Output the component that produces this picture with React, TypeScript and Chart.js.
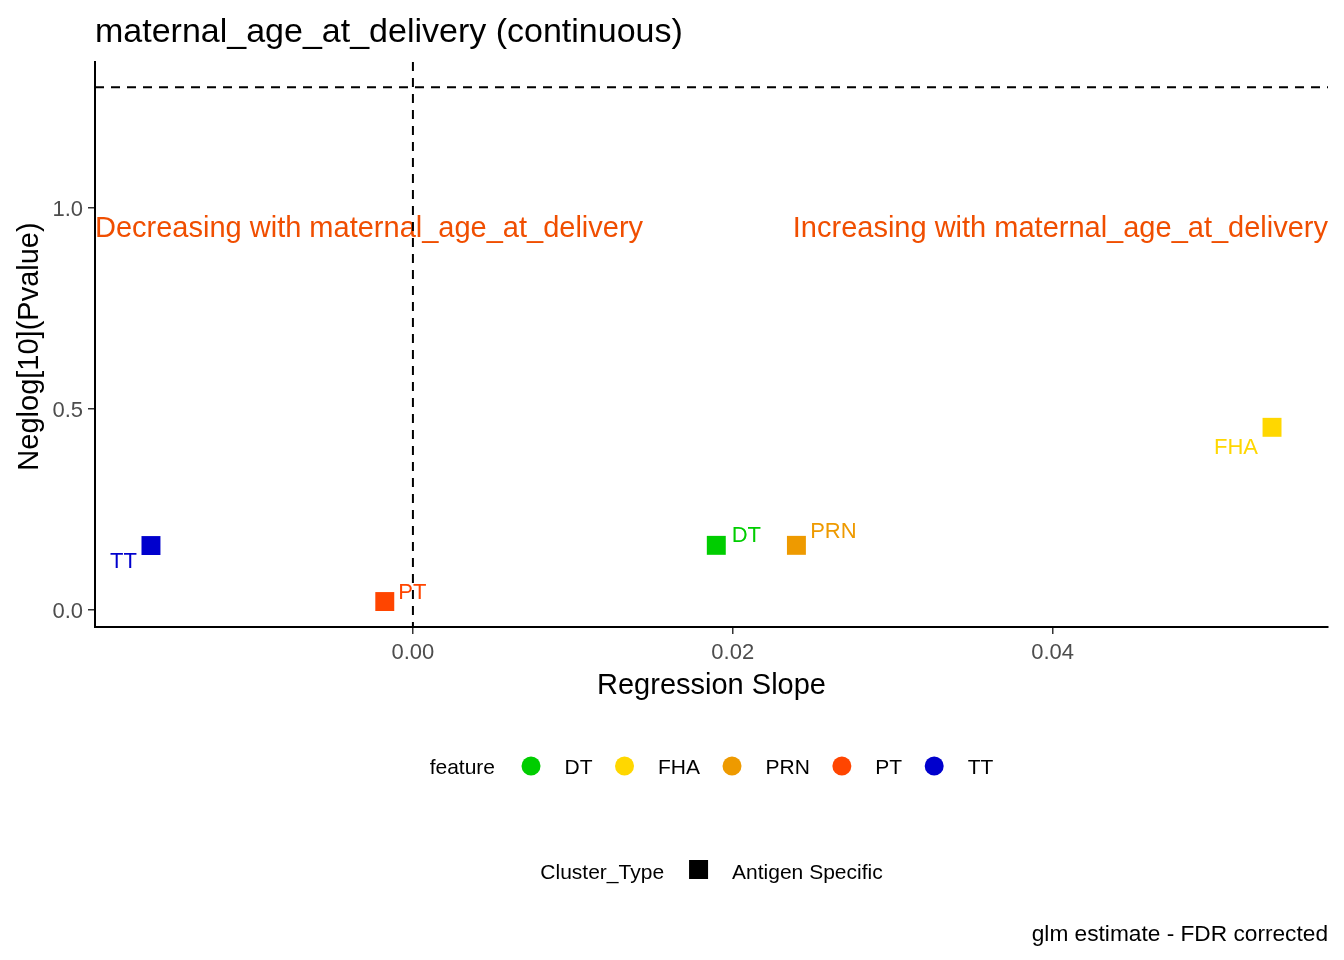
import React, { useEffect, useRef } from 'react';
import { Chart, registerables } from 'chart.js';

Chart.register(...registerables);

// glm results per antigen
const features = ['DT', 'FHA', 'PRN', 'PT', 'TT'];
const slopes = [0.01897, 0.05372, 0.02398, -0.00176, -0.01638];
const negLogP = [0.16, 0.454, 0.16, 0.02, 0.1595];
const featureColors = ['#00CD00', '#FFD700', '#EE9A00', '#FF4500', '#0000CD'];

const xTicks = [0, 0.02, 0.04];
const yTicks = [0, 0.5, 1.0];
const pCutoff = 0.05;

const titleText = 'maternal_age_at_delivery (continuous)';
const xTitle = 'Regression Slope';
const yTitle = 'Neglog[10](Pvalue)';
const decreasingText = 'Decreasing with maternal_age_at_delivery';
const increasingText = 'Increasing with maternal_age_at_delivery';
const captionText = 'glm estimate - FDR corrected';
const clusterTitle = 'Cluster_Type';
const clusterLabel = 'Antigen Specific';

// repelled label offsets (px) from each point
const labelOffsets = [
  [30, -9],
  [-36, 21],
  [37, -13],
  [27.5, -9],
  [-27.5, 16.5],
];

const FONT = '"Liberation Sans", Arial, sans-serif';
const annotationColor = '#F04E00';

const overlay = {
  id: 'overlay',
  afterDatasetsDraw(chart: any) {
    const { ctx, chartArea, scales } = chart;
    const x = scales.x;
    const y = scales.y;
    ctx.save();

    ctx.font = `22px ${FONT}`;
    ctx.textAlign = 'center';
    ctx.textBaseline = 'middle';
    features.forEach((f, i) => {
      ctx.fillStyle = featureColors[i];
      ctx.fillText(
        f,
        x.getPixelForValue(slopes[i]) + labelOffsets[i][0],
        y.getPixelForValue(negLogP[i]) + labelOffsets[i][1]
      );
    });

    ctx.font = `29px ${FONT}`;
    ctx.fillStyle = annotationColor;
    const ay = y.getPixelForValue(1) + 21;
    ctx.textAlign = 'left';
    ctx.fillText(decreasingText, chartArea.left, ay);
    ctx.textAlign = 'right';
    ctx.fillText(increasingText, chartArea.right, ay);

    // reference lines
    ctx.strokeStyle = '#000';
    ctx.lineWidth = 2;
    ctx.setLineDash([9, 7]);
    const hy = y.getPixelForValue(-Math.log10(pCutoff));
    ctx.beginPath();
    ctx.moveTo(chartArea.left, hy);
    ctx.lineTo(chartArea.right, hy);
    ctx.stroke();
    const vx = x.getPixelForValue(0);
    ctx.beginPath();
    ctx.moveTo(vx, chartArea.top);
    ctx.lineTo(vx, chartArea.bottom);
    ctx.stroke();
    ctx.restore();
  },
  afterDraw(chart: any) {
    const { ctx, chartArea } = chart;
    const midX = (chartArea.left + chartArea.right) / 2;
    ctx.save();
    ctx.fillStyle = '#000';
    ctx.textBaseline = 'middle';

    ctx.font = `34px ${FONT}`;
    ctx.textAlign = 'left';
    ctx.fillText(titleText, chartArea.left, 33);

    ctx.font = `29px ${FONT}`;
    ctx.textAlign = 'center';
    ctx.fillText(xTitle, midX, 686);
    ctx.save();
    ctx.translate(30, (chartArea.top + chartArea.bottom) / 2 + 2);
    ctx.rotate(-Math.PI / 2);
    ctx.fillText(yTitle, 0, 0);
    ctx.restore();

    // feature legend
    ctx.font = `21px ${FONT}`;
    ctx.textAlign = 'left';
    const titleW = ctx.measureText('feature').width;
    const itemWs = features.map(f => ctx.measureText(f).width);
    let total = titleW + 36 - 32;
    itemWs.forEach(w => (total += 32 + 33.5 + w));
    let cx = midX - total / 2;
    const ly = 768;
    ctx.fillText('feature', cx, ly);
    cx += titleW + 4;
    features.forEach((f, i) => {
      const c = cx + 32;
      ctx.fillStyle = featureColors[i];
      ctx.beginPath();
      ctx.arc(c, ly - 2, 9.5, 0, Math.PI * 2);
      ctx.fill();
      ctx.fillStyle = '#000';
      ctx.fillText(f, c + 33.5, ly);
      cx = c + 33.5 + itemWs[i];
    });

    // cluster legend
    const ctW = ctx.measureText(clusterTitle).width;
    const clW = ctx.measureText(clusterLabel).width;
    const total2 = ctW + 34.5 + 33.5 + clW;
    const sx = midX - total2 / 2;
    const ly2 = 873;
    ctx.fillText(clusterTitle, sx, ly2);
    const sq = sx + ctW + 34.5;
    ctx.fillRect(sq - 9.5, ly2 - 13, 19, 19);
    ctx.fillText(clusterLabel, sq + 33.5, ly2);

    ctx.font = `22.7px ${FONT}`;
    ctx.textAlign = 'right';
    ctx.fillText(captionText, chartArea.right, 935);
    ctx.restore();
  },
};

const App = () => {
  const canvasRef = useRef<HTMLCanvasElement | null>(null);

  useEffect(() => {
    document.body.style.margin = '0';
    const ctx = canvasRef.current?.getContext('2d') as any;
    const tickFont = { family: FONT, size: 22 };
    const chart = new Chart(ctx, {
      type: 'scatter',
      data: {
        datasets: [
          {
            data: slopes.map((s, i) => ({ x: s, y: negLogP[i] })),
            pointStyle: 'rect',
            pointRadius: 13.4,
            pointBackgroundColor: featureColors,
            pointBorderWidth: 0,
            showLine: false,
          },
        ],
      },
      options: {
        animation: false,
        responsive: false,
        events: [],
        layout: { padding: { left: 0, top: 62, right: 16, bottom: 293 } },
        scales: {
          x: {
            type: 'linear',
            min: -0.01988,
            max: 0.05722,
            afterBuildTicks: (s: any) => {
              s.ticks = xTicks.map(v => ({ value: v }));
            },
            afterFit: (s: any) => {
              s.height = 40;
            },
            ticks: {
              color: '#4D4D4D',
              font: tickFont,
              padding: 6,
              maxRotation: 0,
              autoSkip: false,
              callback: (v: any) => Number(v).toFixed(2),
            },
            grid: { drawOnChartArea: false, drawTicks: true, tickLength: 7, color: '#333333', lineWidth: 1.5 },
            border: { color: '#000', width: 2 },
          },
          y: {
            type: 'linear',
            min: -0.0434,
            max: 1.364,
            afterBuildTicks: (s: any) => {
              s.ticks = yTicks.map(v => ({ value: v }));
            },
            afterFit: (s: any) => {
              s.width = 95;
            },
            ticks: {
              color: '#4D4D4D',
              font: tickFont,
              padding: 5,
              labelOffset: 2,
              autoSkip: false,
              callback: (v: any) => Number(v).toFixed(1),
            },
            grid: { drawOnChartArea: false, drawTicks: true, tickLength: 7, color: '#333333', lineWidth: 1.5 },
            border: { color: '#000', width: 2 },
          },
        },
        plugins: {
          legend: { display: false },
          tooltip: { enabled: false },
        },
      },
      plugins: [overlay],
    } as any);

    return () => {
      chart.destroy();
    };
  }, [canvasRef]);

  return (
    <div style={{ width: 1344, height: 960, background: '#fff' }}>
      <canvas ref={canvasRef} width={1344} height={960} style={{ display: 'block' }} />
    </div>
  );
};

export default App;
